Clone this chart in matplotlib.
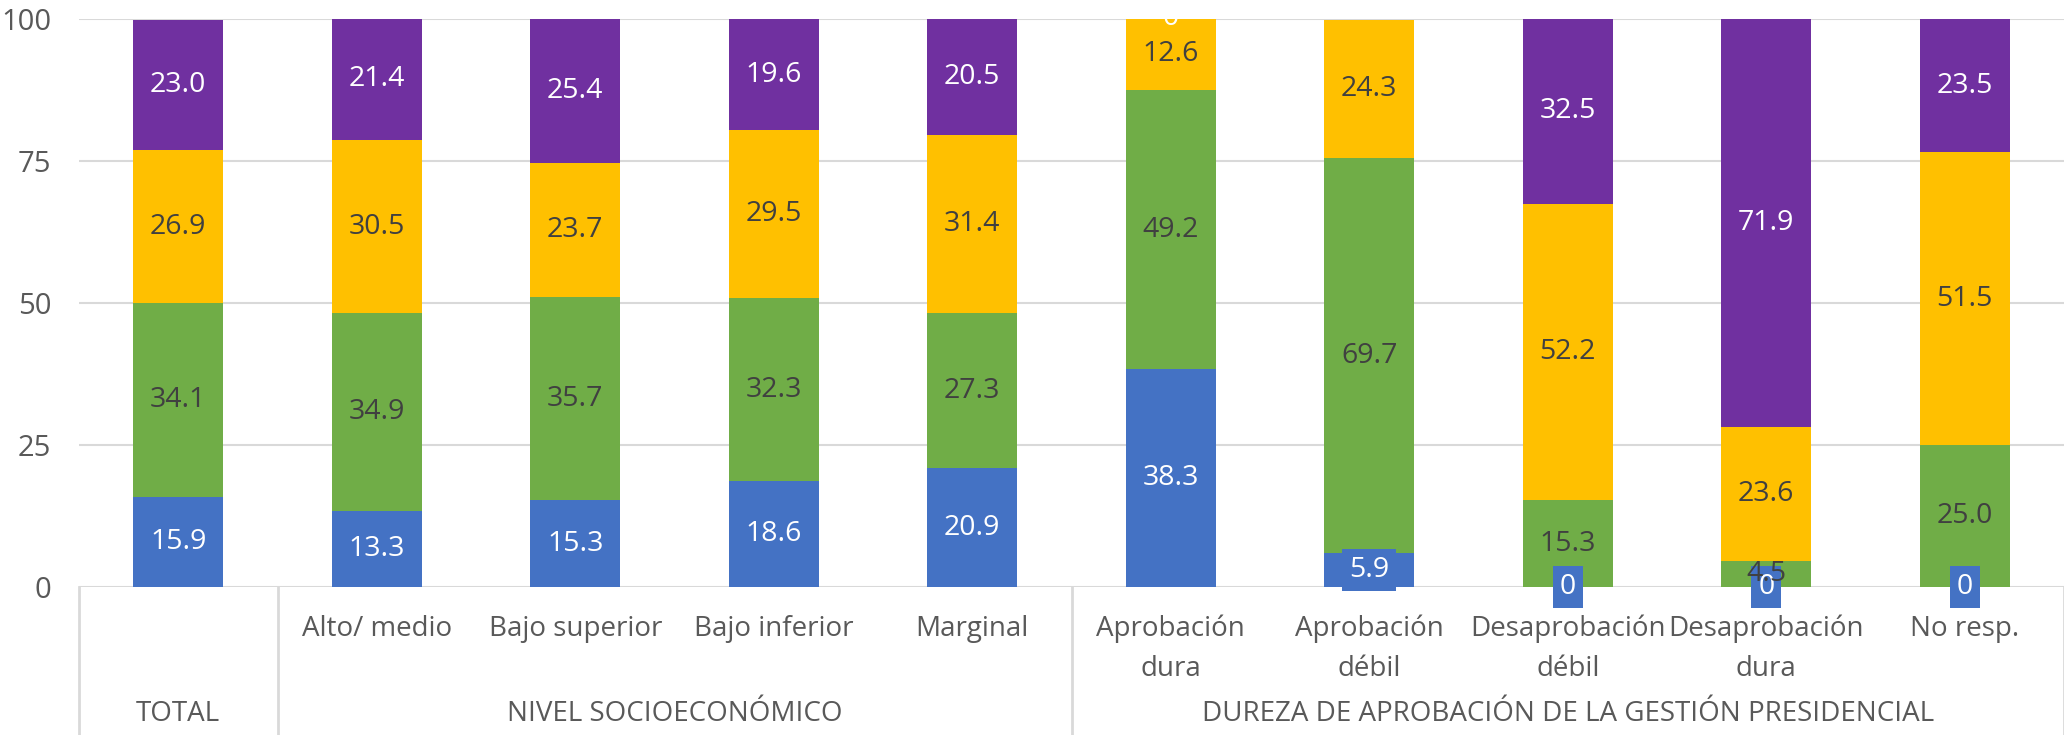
import matplotlib.pyplot as plt
import numpy as np

plt.rcParams['font.family'] = ['Open Sans', 'DejaVu Sans']

# categories and groups
categories = ['', 'Alto/ medio', 'Bajo superior', 'Bajo inferior', 'Marginal',
              'Aprobación\ndura', 'Aprobación\ndébil', 'Desaprobación\ndébil',
              'Desaprobación\ndura', 'No resp.']
groups = ['TOTAL', 'NIVEL SOCIOECONÓMICO', 'DUREZA DE APROBACIÓN DE LA GESTIÓN PRESIDENCIAL']
group_sizes = [1, 4, 5]

# series values (None = no label / no bar)
blue = [15.9, 13.3, 15.3, 18.6, 20.9, 38.3, 5.9, 0, 0, 0]
green = [34.1, 34.9, 35.7, 32.3, 27.3, 49.2, 69.7, 15.3, 4.5, 25.0]
yellow = [26.9, 30.5, 23.7, 29.5, 31.4, 12.6, 24.3, 52.2, 23.6, 51.5]
purple = [23.0, 21.4, 25.4, 19.6, 20.5, 0, None, 32.5, 71.9, 23.5]

series = [blue, green, yellow, purple]
colors = ['#4472C4', '#70AD47', '#FFC000', '#7030A0']
label_colors = ['white', '#404040', '#404040', 'white']

W, H = 2064, 735
fig = plt.figure(figsize=(W / 100, H / 100), dpi=100)
ax = fig.add_axes([79 / W, (H - 587) / H, (W - 79) / W, (587 - 19) / H])

x = np.arange(len(categories))
bottom = np.zeros(len(categories))
width = 0.453

for s, (vals, col, tcol) in enumerate(zip(series, colors, label_colors)):
    v = np.array([0 if a is None else a for a in vals], dtype=float)
    ax.bar(x, v, width, bottom=bottom, color=col, zorder=2)
    for i, a in enumerate(vals):
        if a is None:
            continue
        y = bottom[i] + a / 2
        kw = dict(ha='center', va='center', fontsize=20.5, color=tcol, zorder=5 + s)
        if s == 0:
            ax.text(x[i], y, f'{a:g}' if a == 0 else f'{a:.1f}', clip_on=False,
                    bbox=dict(boxstyle='square,pad=0.25', fc=col, ec='none'), **kw)
        else:
            ax.text(x[i], y, '0' if a == 0 else f'{a:.1f}', clip_on=True, **kw)
    bottom += v

ax.set_xlim(-0.5, len(categories) - 0.5)
ax.set_ylim(0, 100)
ax.set_yticks([0, 25, 50, 75, 100])
ax.yaxis.grid(True, color='#D9D9D9', linewidth=1.5, zorder=0)
ax.set_axisbelow(True)
for sp in ax.spines.values():
    sp.set_visible(False)
ax.axhline(0, color='#D9D9D9', linewidth=2, zorder=1)
ax.tick_params(axis='y', length=0, pad=20, labelsize=21, labelcolor='#595959')

ax.set_xticks(x)
ax.set_xticklabels(categories, linespacing=1.55)
ax.tick_params(axis='x', length=0, pad=20, labelsize=20, labelcolor='#595959')

# group labels and separators
trans = ax.get_xaxis_transform()
bottom_y = -(735 - 587) / (587 - 19)
start = -0.5
ax.plot([start, start], [0, bottom_y], transform=trans, color='#D9D9D9',
        linewidth=2, clip_on=False)
for name, n in zip(groups, group_sizes):
    end = start + n
    ax.text((start + end) / 2, -0.224, name, transform=trans, ha='center',
            va='center', fontsize=20, color='#595959')
    ax.plot([end, end], [0, bottom_y], transform=trans, color='#D9D9D9',
            linewidth=2, clip_on=False)
    start = end

fig.savefig('out.png', dpi=100)
